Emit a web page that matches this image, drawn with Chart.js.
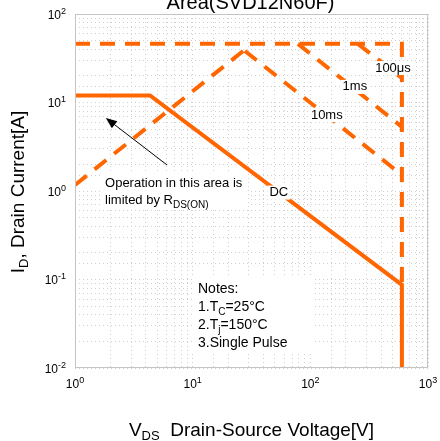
<!DOCTYPE html>
<html><head><meta charset="utf-8">
<script src="https://cdn.jsdelivr.net/npm/chart.js@4"></script>
<style>html,body{margin:0;padding:0;background:#fff}</style>
</head><body>
<canvas id="c" width="440" height="441" style="display:block;width:440px;height:441px"></canvas>
<script>
// ---- data ----
const titleText = 'Area(SVD12N60F)';
const xTickExps = [0, 1, 2, 3];
const yTickExps = [-2, -1, 0, 1, 2];
const dcV = [1, 4.34, 600, 600];
const dcI = [12, 12, 0.087, 0.01];
const rdsV = [1, 32];
const rdsI = [1.17, 46];
const limitV = [1, 600, 600];
const limitI = [46, 46, 0.087];
const ms10V = [27.8, 600];
const ms10I = [38.2, 1.52];
const ms1V = [78.5, 600];
const ms1I = [46, 5.3];
const us100V = [254, 600];
const us100I = [46, 18.9];
const curveLabels = ['100μs', '1ms', '10ms', 'DC'];
const curveLabelV = [504, 239, 138, 54];
const curveLabelI = [24.5, 15, 7.2, 0.96];
const noteLines = ['Notes:', '1.T|C|=25°C', '2.T|j|=150°C', '3.Single Pulse'];
const noteAnchorV = 11.1, noteAnchorI = 0.0703;
const opLines = ['Operation in this area is', 'limited by R|DS(ON)|'];
const opAnchorV = 1.8, opAnchorI = 1.11;
const arrowFromV = 6.05, arrowFromI = 1.97, arrowToV = 1.83, arrowToI = 6.68;

const ORANGE = '#ff6600';
const FONT = '"Liberation Sans", Arial, sans-serif';

function pts(xs, ys) { return xs.map((x, i) => ({x: x, y: ys[i]})); }
function ds(xs, ys, dashed) {
  return {data: pts(xs, ys), showLine: true, borderColor: ORANGE, borderWidth: 4,
    borderDash: dashed ? [15, 10] : [], pointRadius: 0, fill: false, tension: 0, borderCapStyle: 'butt'};
}
function parseRich(s, size, subSize) {
  const parts = s.split('|');
  return parts.map((t, i) => ({t: t, size: i % 2 ? subSize : size, dy: i % 2 ? Math.round(size * 0.3) : 0}));
}
function richWidth(ctx, parts) {
  let w = 0;
  for (const p of parts) { ctx.font = p.size + 'px ' + FONT; w += ctx.measureText(p.t).width; }
  return w;
}
function drawRich(ctx, parts, x, y, align) {
  const w = richWidth(ctx, parts);
  let cx = align === 'center' ? x - w / 2 : align === 'right' ? x - w : x;
  for (const p of parts) {
    ctx.font = p.size + 'px ' + FONT;
    ctx.fillText(p.t, cx, y + (p.dy || 0));
    cx += ctx.measureText(p.t).width;
  }
  return w;
}

const textPlugin = {
  id: 'texts',
  afterDatasetsDraw(chart) {
    const ctx = chart.ctx, xs = chart.scales.x, ys = chart.scales.y, a = chart.chartArea;
    ctx.save();
    ctx.strokeStyle = '#c4c4c4'; ctx.lineWidth = 1;
    ctx.strokeRect(a.left + 0.5, a.top + 0.5, a.right - a.left - 1, a.bottom - a.top - 1);
    ctx.fillStyle = '#000'; ctx.textBaseline = 'alphabetic';
    ctx.font = '13px ' + FONT;
    curveLabels.forEach((t, i) => {
      const px = xs.getPixelForValue(curveLabelV[i]), py = ys.getPixelForValue(curveLabelI[i]);
      const w = ctx.measureText(t).width;
      ctx.fillStyle = '#fff'; ctx.fillRect(px - w / 2 - 2, py - 7, w + 4, 14);
      ctx.fillStyle = '#000'; ctx.textAlign = 'center'; ctx.textBaseline = 'middle';
      ctx.fillText(t, px, py);
    });
    ctx.textAlign = 'left'; ctx.textBaseline = 'alphabetic';
    let ox = xs.getPixelForValue(opAnchorV), oy = ys.getPixelForValue(opAnchorI);
    ctx.fillStyle = '#fff'; ctx.fillRect(ox - 3, oy - 13, 146, 36);
    ctx.fillStyle = '#000';
    opLines.forEach((l, i) => drawRich(ctx, parseRich(l, 13, 10), ox, oy + i * 17, 'left'));
    const ax1 = xs.getPixelForValue(arrowFromV), ay1 = ys.getPixelForValue(arrowFromI);
    const ax2 = xs.getPixelForValue(arrowToV), ay2 = ys.getPixelForValue(arrowToI);
    ctx.strokeStyle = '#000'; ctx.lineWidth = 1;
    const ang = Math.atan2(ay2 - ay1, ax2 - ax1);
    ctx.beginPath(); ctx.moveTo(ax1, ay1); ctx.lineTo(ax2 - 8 * Math.cos(ang), ay2 - 8 * Math.sin(ang)); ctx.stroke();
    ctx.beginPath(); ctx.moveTo(ax2, ay2);
    ctx.lineTo(ax2 - 11 * Math.cos(ang) + 4.5 * Math.sin(ang), ay2 - 11 * Math.sin(ang) - 4.5 * Math.cos(ang));
    ctx.lineTo(ax2 - 11 * Math.cos(ang) - 4.5 * Math.sin(ang), ay2 - 11 * Math.sin(ang) + 4.5 * Math.cos(ang));
    ctx.closePath(); ctx.fillStyle = '#000'; ctx.fill();
    const nx = xs.getPixelForValue(noteAnchorV), ny = ys.getPixelForValue(noteAnchorI);
    ctx.fillStyle = '#fff'; ctx.fillRect(nx - 6, ny - 17, 120, 78);
    ctx.fillStyle = '#000';
    noteLines.forEach((l, i) => drawRich(ctx, parseRich(l, 14, 10), nx, ny + i * 18, 'left'));
    ctx.restore();
  },
  afterDraw(chart) {
    const ctx = chart.ctx, xs = chart.scales.x, ys = chart.scales.y, a = chart.chartArea;
    ctx.save(); ctx.fillStyle = '#000'; ctx.textBaseline = 'alphabetic';
    yTickExps.forEach(e => {
      const py = ys.getPixelForValue(Math.pow(10, e));
      drawRich(ctx, [{t: '10', size: 12}, {t: String(e), size: 9, dy: -5}], a.left - 9, py + 4.5, 'right');
    });
    xTickExps.forEach(e => {
      const px = xs.getPixelForValue(Math.pow(10, e));
      drawRich(ctx, [{t: '10', size: 12}, {t: String(e), size: 9, dy: -5}], px, a.bottom + 20, 'center');
    });
    ctx.font = '20px ' + FONT; ctx.textAlign = 'center';
    ctx.fillText(titleText, (a.left + a.right) / 2 - 1, 9);
    ctx.textAlign = 'left';
    drawRich(ctx, [{t: 'V', size: 19}, {t: 'DS', size: 13, dy: 4}, {t: '  Drain-Source Voltage[V]', size: 19}], (a.left + a.right) / 2, 436, 'center');
    ctx.translate(24, 192); ctx.rotate(-Math.PI / 2);
    drawRich(ctx, [{t: 'I', size: 19}, {t: 'D', size: 13, dy: 4}, {t: ', Drain Current[A]', size: 19}], 0, 0, 'center');
    ctx.restore();
  }
};

const gridOpts = {color: '#cfcfcf', lineWidth: 1, drawTicks: false};
new Chart(document.getElementById('c'), {
  type: 'scatter',
  data: {datasets: [
    ds(limitV, limitI, true),
    ds(rdsV, rdsI, true),
    ds(ms10V, ms10I, true),
    ds(ms1V, ms1I, true),
    ds(us100V, us100I, true),
    ds(dcV, dcI, false)
  ]},
  options: {
    responsive: false, animation: false, devicePixelRatio: 1,
    layout: {padding: {top: 14, right: 12, left: 75, bottom: 73}},
    plugins: {legend: {display: false}, tooltip: {enabled: false}, title: {display: false}},
    scales: {
      x: {type: 'logarithmic', min: 1, max: 1000, grid: gridOpts,
          border: {display: false, dash: [1, 3]}, ticks: {display: false},
          afterFit(s) { s.height = 0; }},
      y: {type: 'logarithmic', min: 0.01, max: 100, grid: gridOpts,
          border: {display: false, dash: [1, 3]}, ticks: {display: false},
          afterFit(s) { s.width = 0; }}
    }
  },
  plugins: [textPlugin]
});
</script>
</body></html>
